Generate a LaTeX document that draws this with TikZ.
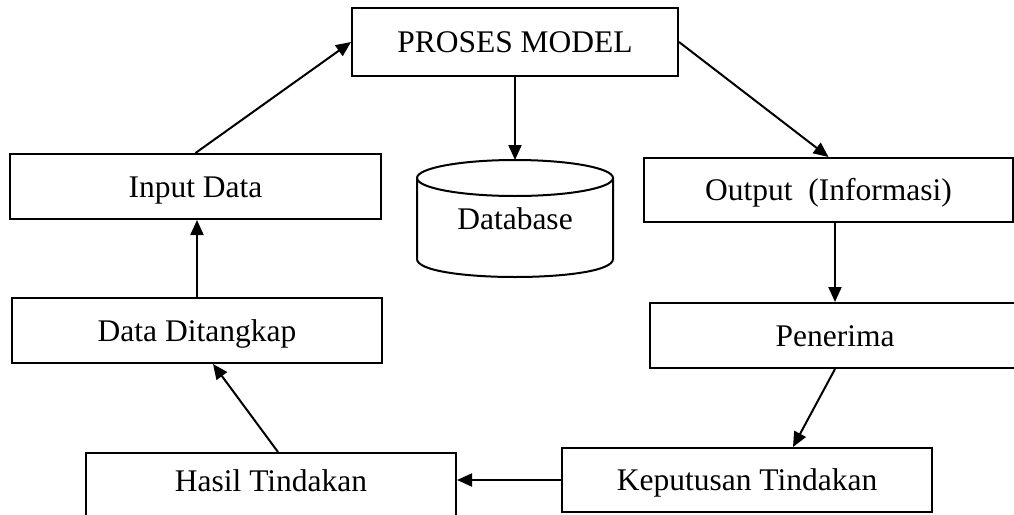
\documentclass[tikz,border=0pt]{standalone}
\usepackage{fontspec}
\setmainfont{Liberation Serif}
\usetikzlibrary{arrows.meta,calc}
\begin{document}
\begin{tikzpicture}[x=1pt,y=-1pt,
  lbl/.style={font=\fontsize{31.5}{36}\selectfont, text height=21pt, text depth=0pt},
  box/.style={draw, line width=2pt, rectangle, inner sep=0pt, lbl},
  txt/.style={inner sep=0pt, lbl},
  ln/.style={line width=2pt},
  arr/.style={line width=2pt, -{Triangle[length=15pt,width=13pt]}}]
\useasboundingbox (0,0) rectangle (1014,514);
\clip (0,0) rectangle (1014,514);
% boxes
\node[box, minimum width=326pt, minimum height=68pt] (proses) at (515,42) {PROSES MODEL};
\node[box, minimum width=371pt, minimum height=65pt] (input) at (195.5,186.5) {Input Data};
\node[box, minimum width=370pt, minimum height=65pt] (ditangkap) at (197,330.5) {Data Ditangkap};
\node[box, minimum width=369pt, minimum height=64pt] (output) at (828.5,190) {Output\ \ (Informasi)};
\node[box, minimum width=370pt, minimum height=65pt] (penerima) at (835,335.5) {Penerima};
\node[box, minimum width=370pt, minimum height=64pt] (keputusan) at (747,480) {Keputusan Tindakan};
\node[box, minimum width=370pt, minimum height=90pt] (hasil) at (271,498) {};
\node[txt] (hasiltxt) at (271,481) {Hasil Tindakan};
% database cylinder
\draw[ln, fill=white] (515,178) ellipse [x radius=98, y radius=18];
\draw[ln] (417,178) -- (417,259) .. controls (417,283) and (613,283) .. (613,259) -- (613,178);
\node[txt] (db) at (515,219) {Database};
\coordinate (dbtop) at (515,160);
% connectors
\draw[arr] (input.north) -- (proses.west);
\draw[arr] (proses.south) -- (dbtop);
\draw[arr] (proses.east) -- (output.north);
\draw[arr] (penerima.north |- output.south) -- (penerima.north);
\coordinate (kin) at ($(keputusan.north)+(46,0)$);
\draw[arr] (penerima.south) -- (kin);
\draw[arr] (keputusan.west) -- (keputusan.west -| hasil.east);
\draw[arr] ($(hasil.north)+(7,0)$) -- ($(ditangkap.south)+(16,0)$);
\draw[arr] (ditangkap.north) -- (ditangkap.north |- input.south);
\end{tikzpicture}
\end{document}
